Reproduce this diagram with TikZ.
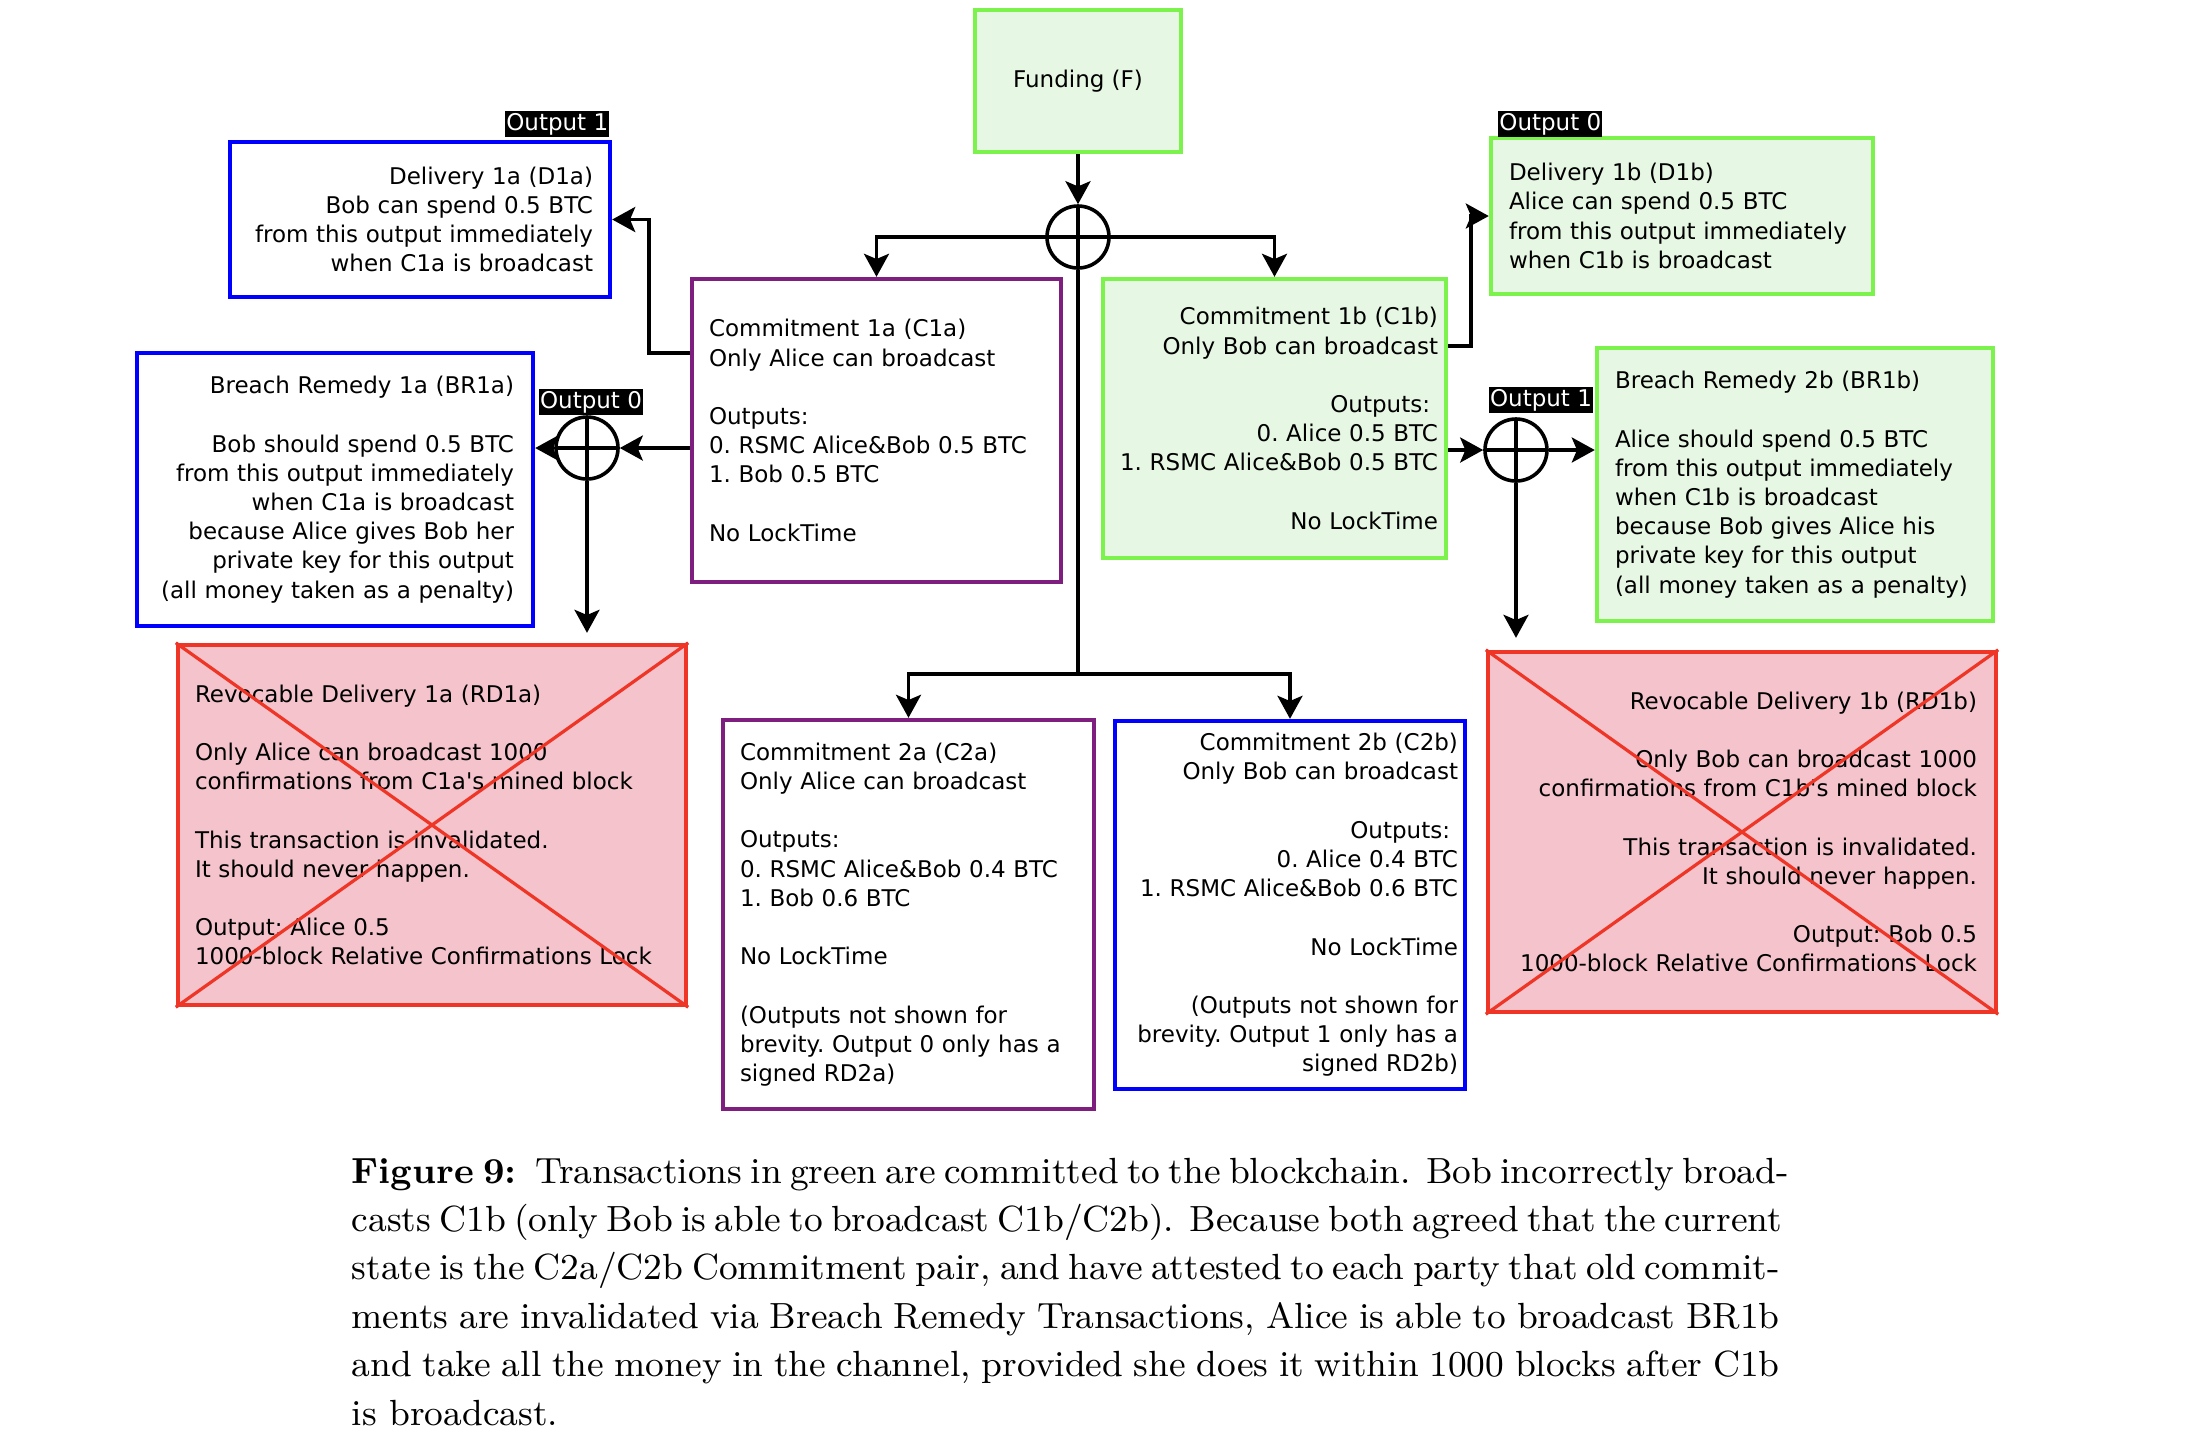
\documentclass[tikz,border=0pt]{standalone}
\usepackage{fontspec}
\usepackage{xcolor}
\usepackage{tikz}
\usetikzlibrary{arrows.meta,positioning}
\newfontfamily\boxfont{DejaVu Sans}
\definecolor{txgreen}{HTML}{7CF24C}
\definecolor{txgreenfill}{HTML}{E6F8E3}
\definecolor{txblue}{HTML}{0000FF}
\definecolor{txpurple}{HTML}{7E1F80}
\definecolor{txred}{HTML}{EE3526}
\definecolor{txredfill}{HTML}{F4C3CB}
\tikzset{
  TxBox/.style={
    draw, line width=1.1pt, inner ysep=0pt,
    font=\boxfont\fontsize{5.75}{7.3}\selectfont\frenchspacing
  },
  GreenTx/.style={TxBox, draw=txgreen, fill=txgreenfill},
  BlueTx/.style={TxBox, draw=txblue},
  PurpleTx/.style={TxBox, draw=txpurple},
  RedTx/.style={TxBox, draw=txred, fill=txredfill},
  RedX/.style={draw=txred, line width=0.8pt},
  OutLabel/.style={
    fill=black, text=white, inner sep=0.3pt,
    text height=4.6pt, text depth=1.3pt,
    font=\boxfont\fontsize{5.75}{7.3}\selectfont
  },
  XorJoin/.style={
    circle, draw, line width=0.9pt, minimum size=15.5pt, inner sep=0pt,
    path picture={
      \draw[line width=0.9pt]
        (path picture bounding box.north) -- (path picture bounding box.south)
        (path picture bounding box.west) -- (path picture bounding box.east);
    }
  },
  Wire/.style={draw, line width=0.9pt},
  Link/.style={Wire, -{Stealth[length=5.75pt,width=6.25pt,inset=1.3pt]}}
}
\newcommand{\gapline}{\\[7.3pt]}

\begin{document}
\begin{tikzpicture}[x=0.25pt, y=-0.25pt]
  \fill[white] (0,0) rectangle (2200,1440);

  % funding and first commitments
  \node[GreenTx, align=center, minimum width=51.5pt, minimum height=35.5pt] (F) at (1078,81) {Funding (F)};
  \node[XorJoin] (Fx) at (1078,237) {};

  \node[PurpleTx, align=left, text width=83.75pt, inner xsep=4.25pt, minimum height=75.75pt] (C1a) at (876.5,430.5)
    {Commitment 1a (C1a)\\Only Alice can broadcast\gapline Outputs:\\0. RSMC Alice\&Bob 0.5 BTC\\1. Bob 0.5 BTC\gapline No LockTime};
  \node[GreenTx, align=right, text width=81.75pt, inner xsep=2pt, minimum height=69.75pt] (C1b) at (1274.5,418.5)
    {Commitment 1b (C1b)\\Only Bob can broadcast\gapline Outputs:\kern2pt\\0. Alice 0.5 BTC\\1. RSMC Alice\&Bob 0.5 BTC\gapline No LockTime};

  % deliveries
  \node[BlueTx, align=right, text width=86.5pt, inner xsep=4.25pt, minimum height=38.75pt] (D1a) at (420,219.5)
    {Delivery 1a (D1a)\\Bob can spend 0.5 BTC\\from this output immediately\\when C1a is broadcast};
  \node[GreenTx, align=left, text width=86.5pt, inner xsep=4.5pt, minimum height=39pt] (D1b) at (1682,216)
    {Delivery 1b (D1b)\\Alice can spend 0.5 BTC\\from this output immediately\\when C1b is broadcast};
  \node[OutLabel, above left=0.5pt and 0.5pt of D1a.north east] (D1alabel) {Output 1};
  \node[OutLabel, above right=-0.4pt and 2.15pt of D1b.north west] (D1blabel) {Output 0};

  % breach remedies
  \node[XorJoin] (C1ax) at (587,448) {};
  \node[XorJoin] (C1bx) at (1516,450) {};
  \node[OutLabel, above=-0.1pt of C1ax.north, xshift=1pt] (C1axlabel) {Output 0};
  \node[OutLabel, above=0.9pt of C1bx.north, xshift=6.25pt] (C1bxlabel) {Output 1};

  \node[BlueTx, align=right, text width=89.5pt, inner xsep=4.75pt, minimum height=68.25pt] (BR1a) at (335,489.5)
    {Breach Remedy 1a (BR1a)\gapline Bob should spend 0.5 BTC\\from this output immediately\\when C1a is broadcast\\because Alice gives Bob her\\private key for this output\\(all money taken as a penalty)};
  \node[GreenTx, align=left, text width=90pt, inner xsep=4.5pt, minimum height=68.25pt] (BR1b) at (1795,484.5)
    {Breach Remedy 2b (BR1b)\gapline Alice should spend 0.5 BTC\\from this output immediately\\when C1b is broadcast\\because Bob gives Alice his\\private key for this output\\(all money taken as a penalty)};

  % revoked deliveries
  \node[RedTx, align=left, text width=118.5pt, inner xsep=4.25pt, minimum height=90pt] (RD1a) at (432,825)
    {Revocable Delivery 1a (RD1a)\gapline Only Alice can broadcast 1000\\confirmations from C1a\textquotesingle s mined block\gapline This transaction is invalidated.\\It should never happen.\gapline Output: Alice 0.5\\1000-block Relative Confirmations Lock};
  \node[RedTx, align=right, text width=117.5pt, inner xsep=4.75pt, minimum height=90pt] (RD1b) at (1742,832)
    {Revocable Delivery 1b (RD1b)\gapline Only Bob can broadcast 1000\\confirmations from C1b\textquotesingle s mined block\gapline This transaction is invalidated.\\It should never happen.\gapline Output: Bob 0.5\\1000-block Relative Confirmations Lock};
  \draw[RedX] (RD1a.north west) -- (RD1a.south east) (RD1a.south west) -- (RD1a.north east);
  \draw[RedX] (RD1b.north west) -- (RD1b.south east) (RD1b.south west) -- (RD1b.north east);

  % current commitments
  \node[PurpleTx, align=left, text width=84.25pt, inner xsep=4.25pt, minimum height=97.25pt] (C2a) at (908.5,914.5)
    {Commitment 2a (C2a)\\Only Alice can broadcast\gapline Outputs:\\0. RSMC Alice\&Bob 0.4 BTC\\1. Bob 0.6 BTC\gapline No LockTime\gapline (Outputs not shown for\\brevity. Output 0 only has a\\signed RD2a)};
  \node[BlueTx, align=right, text width=84pt, inner xsep=1.75pt, minimum height=92pt] (C2b) at (1290,905)
    {Commitment 2b (C2b)\\Only Bob can broadcast\gapline Outputs:\kern2pt\\0. Alice 0.4 BTC\\1. RSMC Alice\&Bob 0.6 BTC\gapline No LockTime\gapline (Outputs not shown for\\brevity. Output 1 only has a\\signed RD2b)};
  \coordinate (C2split) at (1078,674);

  % connectors
  \draw[Link] (F) -- (Fx);
  \draw[Link] (Fx.center) -| (C1a.north);
  \draw[Link] (Fx.center) -| (C1b.north);
  \draw[Wire] (Fx.south) -- (C2split);
  \draw[Link] (C2split) -| (C2a.north);
  \draw[Link] (C2split) -| (C2b.north);

  \draw[Link] ([yshift=-19pt]C1a.north west) -- ++(-41,0) |- (D1a.east);
  \draw[Link] (C1a.west |- C1ax) -- (C1ax);
  \draw[Link] (C1ax) -- (C1ax -| BR1a.east);
  \draw[Link, shorten >=2.5pt] (C1ax) -- (C1ax |- RD1a.north);

  \draw[Link] ([yshift=-17.25pt]C1b.north east) -- ++(23,0) |- (D1b.west);
  \draw[Link] (C1b.east |- C1bx) -- (C1bx);
  \draw[Link] (C1bx) -- (C1bx -| BR1b.west);
  \draw[Link, shorten >=3pt] (C1bx) -- (C1bx |- RD1b.north);

  % caption
  \node[anchor=north west, inner sep=0pt, align=left, font=\fontsize{9.1}{12.1}\selectfont] (caption) at (351,1157)
    {\makebox[357pt][s]{\textbf{Figure 9:}\enspace Transactions in green are committed to the blockchain. Bob incorrectly broad-}\\
     \makebox[357pt][s]{casts C1b (only Bob is able to broadcast C1b/C2b). Because both agreed that the current}\\
     \makebox[357pt][s]{state is the C2a/C2b Commitment pair, and have attested to each party that old commit-}\\
     \makebox[357pt][s]{ments are invalidated via Breach Remedy Transactions, Alice is able to broadcast BR1b}\\
     \makebox[357pt][s]{and take all the money in the channel, provided she does it within 1000 blocks after C1b}\\
     is broadcast.};
\end{tikzpicture}
\end{document}
